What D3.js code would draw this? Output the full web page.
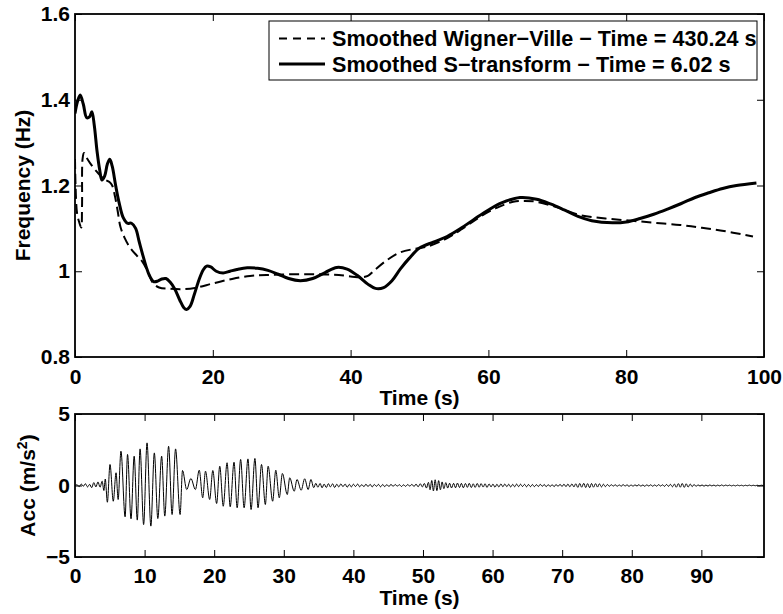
<!DOCTYPE html>
<html><head><meta charset="utf-8">
<script src="https://cdn.jsdelivr.net/npm/d3@7"></script>
<style>
html,body{margin:0;padding:0;background:#fff;}
svg{display:block;font-family:"Liberation Sans",Arial,Helvetica,sans-serif;font-weight:bold;}
</style></head>
<body>
<svg id="chart" width="783" height="614"></svg>
<script>
// ---------- DATA ----------
const xTicksTop = [0, 20, 40, 60, 80, 100];
const yTicksTop = [0.8, 1, 1.2, 1.4, 1.6];
const yTickLabelsTop = ["0.8", "1", "1.2", "1.4", "1.6"];
const xTicksBot = [0, 10, 20, 30, 40, 50, 60, 70, 80, 90];
const yTicksBot = [-5, 0, 5];
const yTickLabelsBot = ["\u22125", "0", "5"];

const legendLabels = [
  "Smoothed Wigner\u2212Ville \u2212 Time = 430.24 s",
  "Smoothed S\u2212transform \u2212 Time = 6.02 s"
];

// Smoothed Wigner-Ville (dashed)
const wvTime = [0, 0.08, 0.3, 0.6, 0.9, 1.02, 1.1, 1.3, 1.8, 2.6, 3.4, 4.2, 5.0, 5.4, 5.8, 6.2, 6.6, 7.2, 8.0, 9.0, 9.8, 10.6, 11.3, 12.2, 13.8, 15.5, 17.4, 20.1, 22.8, 25.4, 27.8, 31.5, 35.1, 38.3, 41.4, 42.5, 43.3, 45.2, 47.2, 49.2, 51.0, 53.9, 56.3, 58.8, 61.2, 63.6, 65.3, 67.0, 70.2, 73.3, 77.0, 80.6, 84.2, 87.8, 90.2, 92.6, 95.5, 98.4];
const wvFreq = [1.262, 1.2, 1.135, 1.115, 1.102, 1.15, 1.262, 1.276, 1.262, 1.243, 1.228, 1.215, 1.208, 1.2, 1.175, 1.14, 1.103, 1.078, 1.055, 1.036, 1.022, 0.998, 0.973, 0.962, 0.959, 0.958, 0.961, 0.972, 0.982, 0.989, 0.991, 0.993, 0.993, 0.991, 0.986, 0.989, 1.0, 1.025, 1.044, 1.052, 1.057, 1.076, 1.1, 1.127, 1.148, 1.162, 1.164, 1.162, 1.148, 1.131, 1.123, 1.118, 1.113, 1.108, 1.103, 1.098, 1.09, 1.081];

// Smoothed S-transform (solid)
const stTime = [0, 0.35, 0.75, 1.2, 1.7, 2.1, 2.45, 2.8, 3.2, 3.6, 3.9, 4.3, 4.7, 5.05, 5.4, 5.9, 6.4, 7.0, 7.6, 8.2, 8.8, 9.3, 9.8, 10.3, 10.8, 11.4, 12.0, 12.6, 13.2, 13.8, 14.5, 15.2, 15.8, 16.2, 16.7, 17.3, 18.0, 18.6, 19.1, 19.7, 20.5, 21.5, 22.5, 23.5, 25.0, 26.5, 28.0, 29.5, 31.0, 32.7, 34.5, 36.3, 38.0, 39.5, 41.0, 42.5, 43.6, 44.8, 46.0, 47.2, 48.5, 50.0, 52.0, 54.0, 56.0, 58.0, 60.0, 62.0, 64.6, 67.0, 69.0, 71.0, 73.0, 75.0, 78.0, 80.0, 82.0, 84.0, 86.0, 88.0, 90.0, 92.0, 94.0, 96.0, 98.9];
const stFreq = [1.368, 1.395, 1.411, 1.39, 1.358, 1.36, 1.372, 1.34, 1.28, 1.235, 1.213, 1.222, 1.25, 1.261, 1.245, 1.2, 1.16, 1.125, 1.112, 1.112, 1.1, 1.07, 1.04, 1.012, 0.99, 0.976, 0.977, 0.982, 0.983, 0.975, 0.958, 0.933, 0.915, 0.911, 0.918, 0.945, 0.98, 1.003, 1.012, 1.01, 1.0, 0.996, 1.0, 1.004, 1.008, 1.007, 1.002, 0.993, 0.983, 0.978, 0.983, 0.997, 1.009, 1.005, 0.99, 0.97, 0.96, 0.962, 0.978, 1.005, 1.03, 1.054, 1.068, 1.081, 1.1, 1.122, 1.143, 1.16, 1.172, 1.168, 1.157, 1.143, 1.128, 1.118, 1.113, 1.115, 1.123, 1.133, 1.145, 1.158, 1.172, 1.183, 1.193, 1.2, 1.206];

// Acceleration record: extrema [time (s), acc (m/s^2)]
const accPre = [[0,0],[0.3,0.05],[0.6,-0.08],[0.9,0.1],[1.2,-0.05],[1.5,0.12],[1.8,-0.1],[2.1,0.08],[2.4,-0.15],[2.7,0.2],[3.0,-0.1],[3.3,0.25],[3.6,-0.12],[3.9,0.3],[4.15,-0.35],[4.35,0.45]];
const accStrong = [[4.65,-1.17],[5.03,1.47],[5.5,-1.1],[5.9,0.89],[6.2,-0.98],[6.6,2.4],[7.2,-2.19],[7.55,2.17],[8.05,-2.33],[8.5,2.05],[8.95,-2.42],[9.35,2.56],[9.86,-2.73],[10.35,2.98],[10.9,-2.84],[11.4,2.28],[11.9,-2.31],[12.45,2.05],[12.9,-2.14],[13.45,2.74],[13.95,-2.03],[14.45,2.56],[15.1,-2.03],[15.45,1.05],[16.05,-0.28],[16.65,0.49],[17.3,-0.28],[17.85,1.07],[18.35,-0.86],[18.75,1.0],[19.35,-0.98],[19.8,1.05],[20.35,-1.26],[20.8,1.35],[21.3,-1.45],[21.85,1.59],[22.3,-1.49],[22.85,1.63],[23.3,-1.56],[23.8,1.82],[24.3,-1.56],[24.85,1.86],[25.3,-1.68],[25.85,1.89],[26.3,-1.56],[26.8,1.47],[27.35,-1.33],[27.75,1.35],[28.4,-1.1],[28.85,1.07],[29.35,-0.86],[29.8,0.84],[30.5,-0.63],[30.85,0.54],[31.5,-0.4],[31.9,0.42],[32.5,-0.33],[33.0,0.47],[33.5,-0.28],[33.9,0.42],[34.3,-0.15]];
const accQuiet = [[34.6,0.15],[34.9,-0.12],[35.22,0.14],[35.5,-0.16],[35.8,0.1],[36.12,-0.14],[36.4,0.13],[36.7,-0.1],[37.02,0.12],[37.3,-0.14],[37.62,0.09],[37.9,-0.1],[38.2,0.11],[38.5,-0.08],[38.82,0.1],[39.1,-0.12],[39.42,0.08],[39.7,-0.1],
[40.0,0.09],[40.3,-0.07],[40.62,0.1],[40.9,-0.09],[41.2,0.06],[41.52,-0.08],[41.8,0.09],[42.1,-0.07],[42.42,0.08],[42.7,-0.1],[43.0,0.07],[43.32,-0.06],[43.6,0.08],[43.9,-0.09],[44.22,0.07],[44.5,-0.08],[44.8,0.06],[45.12,-0.07],[45.4,0.08],[45.7,-0.06],
[46.02,0.07],[46.3,-0.05],[46.6,0.06],[46.92,-0.07],[47.2,0.05],[47.5,-0.06],[47.82,0.07],[48.1,-0.05],[48.4,0.08],[48.72,-0.07],[49.0,0.1],[49.3,-0.09],[49.62,0.12],[49.9,-0.1],[50.2,0.14],[50.5,-0.18],[50.78,0.22],
[51.02,-0.3],[51.26,0.35],[51.5,-0.38],[51.75,0.4],[52.0,-0.36],[52.25,0.34],[52.5,-0.3],[52.75,0.25],[53.0,-0.22],[53.28,0.2],
[53.55,-0.18],[53.82,0.16],[54.1,-0.17],[54.4,0.15],[54.68,-0.16],[54.95,0.17],[55.25,-0.14],[55.52,0.15],[55.8,-0.16],[56.1,0.14],[56.38,-0.13],[56.65,0.15],[56.95,-0.14],[57.22,0.12],[57.5,-0.13],[57.8,0.14],[58.08,-0.12],[58.35,0.13],[58.65,-0.11],[58.92,0.12],[59.2,-0.13],[59.5,0.11],[59.78,-0.1],
[60.05,0.1],[60.35,-0.12],[60.62,0.09],[60.9,-0.1],[61.2,0.11],[61.48,-0.09],[61.75,0.1],[62.05,-0.08],[62.32,0.09],[62.6,-0.1],[62.9,0.08],[63.18,-0.09],[63.45,0.1],[63.75,-0.08],[64.02,0.09],[64.3,-0.07],[64.6,0.08],[64.88,-0.09],[65.15,0.07],[65.45,-0.08],[65.72,0.07],
[66.0,-0.08],[66.3,0.06],[66.58,-0.07],[66.85,0.08],[67.15,-0.06],[67.42,0.07],[67.7,-0.08],[68.0,0.06],[68.28,-0.07],[68.55,0.06],[68.85,-0.08],[69.12,0.07],[69.4,-0.06],[69.7,0.08],[69.98,-0.07],[70.25,0.09],[70.55,-0.08],[70.82,0.1],[71.1,-0.09],[71.4,0.11],[71.68,-0.1],
[71.95,0.12],[72.25,-0.13],[72.52,0.14],[72.8,-0.12],[73.1,0.15],[73.38,-0.14],[73.65,0.13],[73.95,-0.15],[74.22,0.14],[74.5,-0.12],[74.8,0.13],[75.08,-0.11],[75.35,0.12],[75.65,-0.1],[75.92,0.09],[76.2,-0.08],[76.5,0.07],[76.78,-0.06],
[77.05,0.06],[77.35,-0.05],[77.62,0.06],[77.9,-0.06],[78.2,0.05],[78.48,-0.06],[78.75,0.07],[79.05,-0.05],[79.32,0.06],[79.6,-0.07],[79.9,0.05],[80.18,-0.06],[80.45,0.05],[80.75,-0.04],[81.02,0.06],[81.3,-0.05],[81.6,0.04],[81.88,-0.06],[82.15,0.05],[82.45,-0.04],[82.72,0.05],[83.0,-0.05],[83.3,0.04],[83.58,-0.05],[83.85,0.06],[84.15,-0.04],[84.42,0.05],[84.7,-0.06],[85.0,0.07],[85.28,-0.06],[85.55,0.08],[85.85,-0.09],
[86.12,0.1],[86.4,-0.12],[86.7,0.13],[86.98,-0.12],[87.25,0.14],[87.55,-0.13],[87.82,0.12],[88.1,-0.11],[88.4,0.1],[88.68,-0.08],[88.95,0.07],[89.25,-0.06],
[89.52,0.05],[89.8,-0.04],[90.1,0.04],[90.38,-0.05],[90.65,0.03],[90.95,-0.04],[91.22,0.04],[91.5,-0.03],[91.8,0.03],[92.08,-0.04],[92.35,0.03],[92.65,-0.03],[92.92,0.04],[93.2,-0.03],[93.5,0.03],[93.78,-0.02],[94.05,0.03],[94.35,-0.03],[94.62,0.02],[94.9,-0.03],[95.2,0.03],[95.48,-0.02],[95.75,0.02],[96.05,-0.03],[96.32,0.02],[96.6,-0.02],[96.9,0.03],[97.18,-0.02],[97.45,0.02],[97.75,-0.02],[98.02,0.02],[98.3,-0.02],[98.6,0.02],[98.9,0]];

// ---------- DRAW ----------
const svg = d3.select("#chart");
const FS = 21;
const FS_LEG = 21.6;

const boxTop = {x0: 75, x1: 764, y0: 14, y1: 357};
const boxBot = {x0: 75, x1: 764, y0: 414, y1: 557};

const xTop = d3.scaleLinear().domain([0, 100]).range([boxTop.x0, boxTop.x1]);
const yTop = d3.scaleLinear().domain([0.8, 1.6]).range([boxTop.y1, boxTop.y0]);
const xBot = d3.scaleLinear().domain([0, 99]).range([boxBot.x0, boxBot.x1]);
const yBot = d3.scaleLinear().domain([-5, 5]).range([boxBot.y1, boxBot.y0]);

const defs = svg.append("defs");
defs.append("clipPath").attr("id", "clipTop").append("rect")
  .attr("x", boxTop.x0).attr("y", boxTop.y0).attr("width", boxTop.x1 - boxTop.x0).attr("height", boxTop.y1 - boxTop.y0);
defs.append("clipPath").attr("id", "clipBot").append("rect")
  .attr("x", boxBot.x0).attr("y", boxBot.y0).attr("width", boxBot.x1 - boxBot.x0).attr("height", boxBot.y1 - boxBot.y0);

function styleAxis(g, showText) {
  g.select(".domain").remove();
  g.selectAll(".tick line").attr("stroke", "#000").attr("stroke-width", 1);
  g.selectAll(".tick text").attr("fill", "#000").style("font-size", FS + "px").style("font-weight", "bold");
  if (!showText) g.selectAll(".tick text").remove();
}
const TL = 7;

function drawAxes(x, y, box, xt, yt, yLabels, xPad) {
  svg.append("g").attr("transform", `translate(0,${box.y1})`)
    .call(d3.axisBottom(x).tickValues(xt).tickSize(-TL).tickPadding(xPad).tickFormat(d3.format("d")))
    .call(g => styleAxis(g, true));
  svg.append("g").attr("transform", `translate(0,${box.y0})`)
    .call(d3.axisTop(x).tickValues(xt).tickSize(-TL))
    .call(g => styleAxis(g, false));
  svg.append("g").attr("transform", `translate(${box.x0},0)`)
    .call(d3.axisLeft(y).tickValues(yt).tickSize(-TL).tickPadding(5).tickFormat((d, i) => yLabels[i]))
    .call(g => styleAxis(g, true));
  svg.append("g").attr("transform", `translate(${box.x1},0)`)
    .call(d3.axisRight(y).tickValues(yt).tickSize(-TL))
    .call(g => styleAxis(g, false));
  svg.append("rect").attr("x", box.x0).attr("y", box.y0)
    .attr("width", box.x1 - box.x0).attr("height", box.y1 - box.y0)
    .attr("fill", "none").attr("stroke", "#000").attr("stroke-width", 1.8);
}

// ---- top panel curves
const lineTop = d3.line().x(d => xTop(d[0])).y(d => yTop(d[1])).curve(d3.curveCatmullRom.alpha(0.5));
const wvData = wvTime.map((t, i) => [t, wvFreq[i]]);
const stData = stTime.map((t, i) => [t, stFreq[i]]);

const gTop = svg.append("g").attr("clip-path", "url(#clipTop)");
gTop.append("path").datum(wvData).attr("d", lineTop)
  .attr("fill", "none").attr("stroke", "#000").attr("stroke-width", 2).attr("stroke-dasharray", "10,5");
gTop.append("path").datum(stData).attr("d", lineTop)
  .attr("fill", "none").attr("stroke", "#000").attr("stroke-width", 3).attr("stroke-linejoin", "round");

drawAxes(xTop, yTop, boxTop, xTicksTop, yTicksTop, yTickLabelsTop, 12);

// legend
const lg = svg.append("g");
lg.append("rect").attr("x", 269).attr("y", 21).attr("width", 488).attr("height", 59)
  .attr("fill", "#fff").attr("stroke", "#000").attr("stroke-width", 1);
const rowsY = [38.5, 64];
lg.append("line").attr("x1", 279).attr("x2", 325).attr("y1", rowsY[0]).attr("y2", rowsY[0])
  .attr("stroke", "#000").attr("stroke-width", 2).attr("stroke-dasharray", "8,6");
lg.append("line").attr("x1", 279).attr("x2", 325).attr("y1", rowsY[1]).attr("y2", rowsY[1])
  .attr("stroke", "#000").attr("stroke-width", 3);
legendLabels.forEach((s, i) => {
  lg.append("text").attr("x", 332).attr("y", rowsY[i] + 7.7).style("font-size", FS_LEG + "px").text(s);
});

svg.append("text").attr("x", (boxTop.x0 + boxTop.x1) / 2).attr("y", 405).attr("text-anchor", "middle")
  .style("font-size", FS + "px").text("Time (s)");
svg.append("text").attr("transform", `translate(30,${(boxTop.y0 + boxTop.y1) / 2}) rotate(-90)`)
  .attr("text-anchor", "middle").style("font-size", FS + "px").text("Frequency (Hz)");

// ---- bottom panel
const accData = accPre.concat(accStrong, accQuiet);
const lineBot = d3.line().x(d => xBot(d[0])).y(d => yBot(d[1])).curve(d3.curveMonotoneX);
svg.append("g").attr("clip-path", "url(#clipBot)")
  .append("path").datum(accData).attr("d", lineBot)
  .attr("fill", "none").attr("stroke", "#000").attr("stroke-width", 1);

drawAxes(xBot, yBot, boxBot, xTicksBot, yTicksBot, yTickLabelsBot, 11);

svg.append("text").attr("x", (boxBot.x0 + boxBot.x1) / 2).attr("y", 605).attr("text-anchor", "middle")
  .style("font-size", FS + "px").text("Time (s)");
const accLabel = svg.append("text").attr("transform", `translate(35,${(boxBot.y0 + boxBot.y1) / 2}) rotate(-90)`)
  .attr("text-anchor", "middle").style("font-size", FS + "px");
accLabel.append("tspan").text("Acc (m/s");
accLabel.append("tspan").attr("dy", -8).style("font-size", "14px").text("2");
accLabel.append("tspan").attr("dy", 8).text(")");
</script>
</body></html>
